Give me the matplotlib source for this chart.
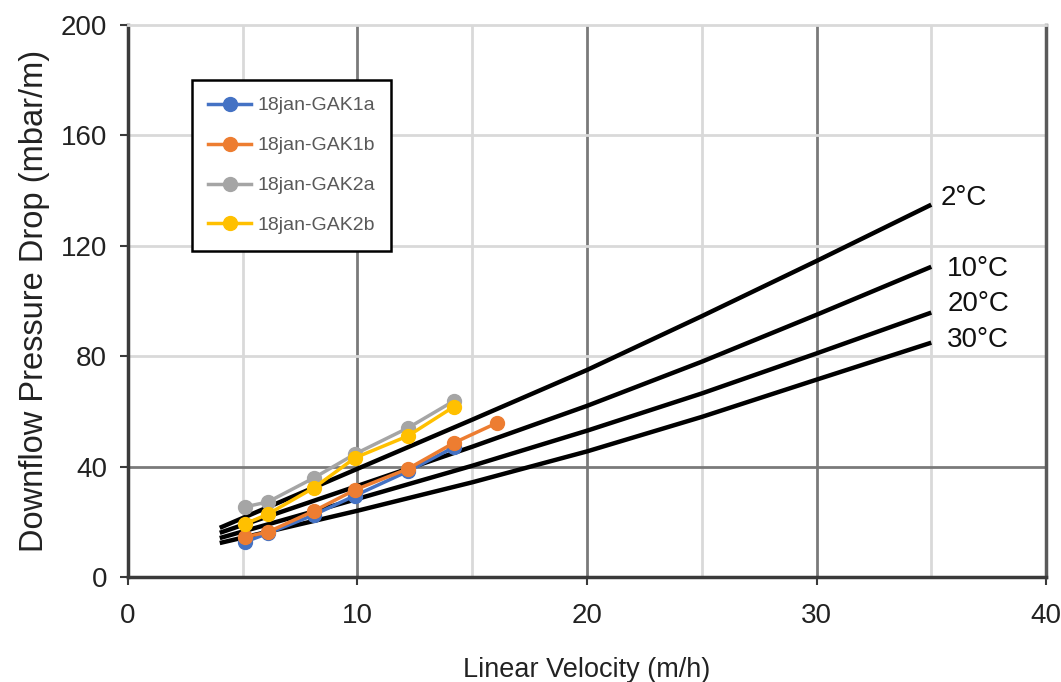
import matplotlib
matplotlib.use("Agg")
import matplotlib.pyplot as plt

plt.rcParams['font.family'] = ['Liberation Sans', 'DejaVu Sans']

# measured series (linear velocity m/h, pressure drop mbar/m)
vel_1a = [5.1, 6.1, 8.1, 9.9, 12.2, 14.2]
dp_1a = [12.7, 15.8, 22.5, 29.5, 38.3, 47.0]
vel_1b = [5.1, 6.1, 8.1, 9.9, 12.2, 14.2, 16.1]
dp_1b = [14.5, 16.3, 23.9, 31.6, 39.2, 48.6, 55.9]
vel_2a = [5.1, 6.1, 8.1, 9.9, 12.2, 14.2]
dp_2a = [25.4, 27.2, 35.9, 44.6, 54.0, 63.8]
vel_2b = [5.1, 6.1, 8.1, 9.9, 12.2, 14.2]
dp_2b = [19.2, 22.8, 32.3, 43.2, 51.1, 61.7]

series_names = ['18jan-GAK1a', '18jan-GAK1b', '18jan-GAK2a', '18jan-GAK2b']
series_colors = ['#4472C4', '#ED7D31', '#A5A5A5', '#FFC000']

# reference curves by water temperature
ref_vel = [4, 10, 15, 20, 25, 30, 35]
ref_2c = [17.8, 39.2, 57.0, 75.0, 94.5, 114.5, 134.9]
ref_10c = [16.0, 33.0, 47.2, 62.0, 78.0, 95.0, 112.4]
ref_20c = [14.1, 28.3, 40.3, 53.0, 66.5, 81.0, 95.8]
ref_30c = [12.3, 24.0, 34.3, 45.5, 58.0, 71.5, 84.9]
ref_labels = ['2°C', '10°C', '20°C', '30°C']
ref_label_pos = [(35.4, 137.5), (35.7, 111.5), (35.7, 99.0), (35.7, 86.0)]

fig = plt.figure(figsize=(10.61, 6.82), dpi=100)
ax = fig.add_axes([0.1206, 0.154, 0.8653, 0.8093])
ax.set_xlim(0, 40)
ax.set_ylim(0, 200)

# gridlines: light at half steps, darker at full steps
light = '#d9d9d9'
dark = '#7a7a7a'
for xv in [5, 15, 25, 35]:
    ax.axvline(xv, color=light, lw=2, zorder=0)
for xv in [10, 20, 30]:
    ax.axvline(xv, color=dark, lw=2, zorder=0)
for yv in [80, 120, 160]:
    ax.axhline(yv, color=light, lw=2, zorder=0)
ax.axhline(40, color=dark, lw=2, zorder=0)

for s in ['left', 'bottom']:
    ax.spines[s].set_color('#3a3a3a')
    ax.spines[s].set_linewidth(2.5)
ax.spines['right'].set_color('#5a5a5a')
ax.spines['right'].set_linewidth(2.5)
ax.spines['top'].set_color(light)
ax.spines['top'].set_linewidth(2)

for ys in [ref_2c, ref_10c, ref_20c, ref_30c]:
    ax.plot(ref_vel, ys, color='black', lw=3.2, zorder=2, solid_capstyle='butt')
for lab, (lx, ly) in zip(ref_labels, ref_label_pos):
    ax.text(lx, ly, lab, fontsize=20, va='center', ha='left', color='#111111')

all_x = [vel_1a, vel_1b, vel_2a, vel_2b]
all_y = [dp_1a, dp_1b, dp_2a, dp_2b]
# draw the grey/yellow first so 1a/1b stay on top like in the original
order = [2, 3, 0, 1]
handles = {}
for i in order:
    h, = ax.plot(all_x[i], all_y[i], color=series_colors[i], lw=2.5,
                 marker='o', markersize=10, label=series_names[i], zorder=3 + i)
    handles[i] = h

leg = ax.legend([handles[i] for i in range(4)], series_names,
                loc='upper left', bbox_to_anchor=(0.0697, 0.900),
                borderaxespad=0, fontsize=14, labelcolor='#595959',
                fancybox=False, framealpha=1, edgecolor='black',
                handlelength=2.2, labelspacing=1.15, borderpad=0.85,
                handletextpad=0.3)
leg.get_frame().set_linewidth(1.8)

ax.set_xticks([0, 10, 20, 30, 40])
ax.set_yticks([0, 40, 80, 120, 160, 200])
ax.tick_params(axis='both', labelsize=20, colors='#3a3a3a', labelcolor='#222222',
               length=6, width=1.5, direction='out')
ax.tick_params(axis='x', pad=13)
ax.tick_params(axis='y', pad=9)

ax.set_xlabel('Linear Velocity (m/h)', fontsize=19.5, color='#222222', labelpad=20)
ax.set_ylabel('Downflow Pressure Drop (mbar/m)', fontsize=23.5, color='#222222', labelpad=8)

fig.savefig('out.png', dpi=100)
